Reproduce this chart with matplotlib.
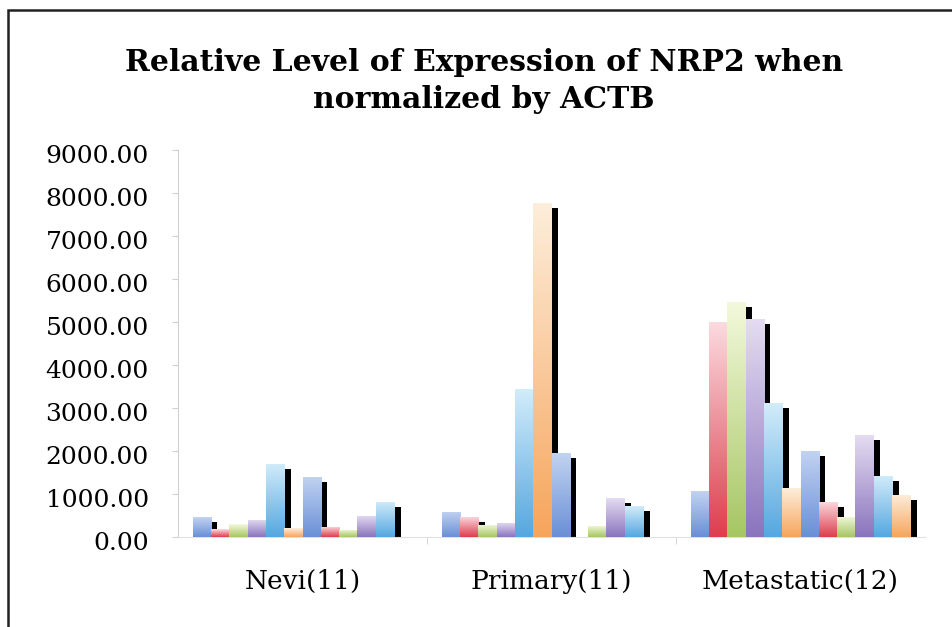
import numpy as np
import matplotlib

matplotlib.use("Agg")
import matplotlib.pyplot as plt
import matplotlib.transforms as mtransforms
from matplotlib.colors import LinearSegmentedColormap
from matplotlib.patches import Rectangle

categories = ['Nevi(11)', 'Primary(11)', 'Metastatic(12)']

# one value per sample, bars in the order they appear inside each group
nevi = [460, 180, 300, 400, 1700, 200, 1400, 240, 170, 490, 820, np.nan]
primary = [590, 470, 280, 330, 3440, 7770, 1950, 0, 260, 900, 720, np.nan]
metastatic = [1060, 5010, 5480, 5070, 3110, 1130, 1990, 820, 470, 2370, 1420, 980]

yticks = [0, 1000, 2000, 3000, 4000, 5000, 6000, 7000, 8000, 9000]

# (bottom, top) of the gradient for each colour in the cycle
palette = [('#6a8fd6', '#c2d3f2'),
           ('#dd3e4e', '#fbdbe0'),
           ('#a6c663', '#f3f9dc'),
           ('#8a74bd', '#e4dcf2'),
           ('#55a7e0', '#d2ecfa'),
           ('#f6a55c', '#fdeedb')]

fig = plt.figure(figsize=(9.52, 6.27), dpi=100)
ax = fig.add_axes([178 / 952, 90 / 627, 747 / 952, 386.7 / 627])

x = np.arange(len(categories))
n_series = len(metastatic)
width = 0.0736
dx = 0.026      # shadow offset to the right
dy = 116        # shadow offset downwards

for j in range(n_series):
    vals = np.array([nevi[j], primary[j], metastatic[j]], dtype=float)
    pos = x - n_series * width / 2 + (j + 0.5) * width
    ok = ~np.isnan(vals)
    # black shadow behind the bars
    ax.bar(pos[ok] + dx, np.maximum(vals[ok] - dy, 0), width, color='black', zorder=2)
    bottom_c, top_c = palette[j % len(palette)]
    cmap = LinearSegmentedColormap.from_list('g%d' % j, [bottom_c, top_c])
    bars = ax.bar(pos[ok], vals[ok], width, color='none', linewidth=0, zorder=3)
    for rect in bars:
        h = rect.get_height()
        if h <= 0:
            continue
        x0 = rect.get_x()
        im = ax.imshow(np.linspace(0, 1, 128).reshape(-1, 1), extent=[x0, x0 + width, 0, h],
                       origin='lower', aspect='auto', cmap=cmap, zorder=3)
        im.set_clip_path(rect)

ax.set_xlim(-0.5, 2.5)
ax.set_ylim(0, 9000)
ax.set_yticks(yticks)
ax.set_yticklabels(['%.2f' % v for v in yticks], family='DejaVu Serif', fontsize=18)
ax.set_xticks(x)
ax.set_xticklabels(categories, family='DejaVu Serif', fontsize=19)
ax.set_xticks([0.5, 1.5], minor=True)
ax.tick_params(axis='y', length=4, color='#d0d0d0', pad=17)
ax.tick_params(axis='x', which='major', length=0, pad=23)
ax.tick_params(axis='x', which='minor', length=5, color='#d0d0d0')

# labels sit a little below their gridline in the original
shift = mtransforms.ScaledTranslation(0, -4 / 100, fig.dpi_scale_trans)
for lab in ax.get_yticklabels():
    lab.set_transform(lab.get_transform() + shift)

for s in ['top', 'right']:
    ax.spines[s].set_visible(False)
ax.spines['left'].set_color('#d0d0d0')
ax.spines['bottom'].set_color('#e0e0e0')

fig.text(484 / 952, 1 - 81 / 627, 'Relative Level of Expression of NRP2 when\nnormalized by ACTB',
         ha='center', va='center', family='DejaVu Serif', fontweight='bold', fontsize=21.5,
         linespacing=1.38)

# outer chart frame (only left and top edges are visible in the crop)
fig.patches.append(Rectangle((8 / 952, -0.1), 1.2, 1 - 10 / 627 + 0.1, transform=fig.transFigure,
                             fill=False, edgecolor='#222222', linewidth=1.8))

fig.savefig('out.png', dpi=100)
